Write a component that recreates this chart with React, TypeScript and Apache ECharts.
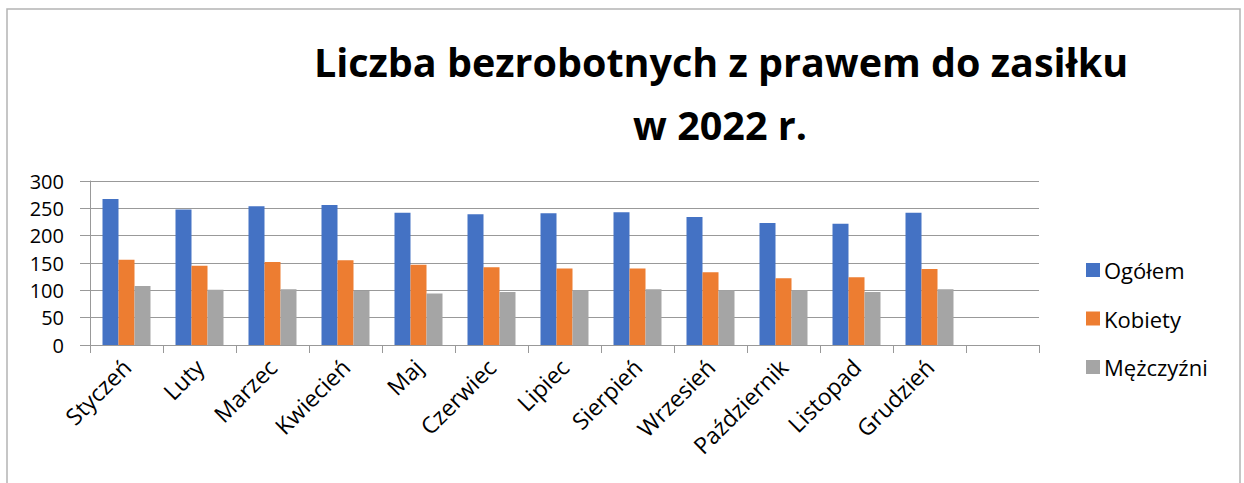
import React, { useEffect, useRef } from "react";
import * as echarts from "echarts";

const months = ["Styczeń", "Luty", "Marzec", "Kwiecień", "Maj", "Czerwiec", "Lipiec", "Sierpień", "Wrzesień", "Październik", "Listopad", "Grudzień", ""];
const ogolem = [267, 248, 254, 256, 242, 239, 241, 243, 234, 223, 222, 242];
const kobiety = [156, 145, 152, 155, 147, 142, 140, 140, 133, 122, 124, 139];
const mezczyzni = [108, 101, 102, 99, 94, 97, 100, 102, 100, 100, 97, 102];
const yTicks = { min: 0, max: 300, interval: 50 };
const titleLines = ["Liczba bezrobotnych z prawem do zasiłku", "w 2022 r."];

const FONT = "'Open Sans', 'Noto Sans', sans-serif";

export default function App() {
  const ref = useRef<HTMLDivElement>(null);
  useEffect(() => {
    if (!ref.current) return;
    const chart = echarts.init(ref.current, undefined, { renderer: "svg" });
    chart.setOption({
      animation: false,
      backgroundColor: "#ffffff",
      textStyle: { fontFamily: FONT },
      graphic: [
        {
          type: "rect",
          shape: { x: 7, y: 9, width: 1233, height: 490 },
          style: { fill: "none", stroke: "#b4b4b4", lineWidth: 1.5 },
          silent: true,
        },
        {
          type: "text",
          x: 721,
          y: 62,
          style: {
            text: titleLines[0],
            font: `bold 39.5px ${FONT}`,
            fill: "#000000",
            textAlign: "center",
            textVerticalAlign: "middle",
          },
        },
        {
          type: "text",
          x: 720,
          y: 125,
          style: {
            text: titleLines[1],
            font: `bold 39.5px ${FONT}`,
            fill: "#000000",
            textAlign: "center",
            textVerticalAlign: "middle",
          },
        },
      ],
      legend: {
        orient: "vertical",
        left: 1081,
        top: 254,
        itemWidth: 14,
        itemHeight: 14,
        itemGap: 26.5,
        icon: "rect",
        textStyle: { fontSize: 22, color: "#000000", fontFamily: FONT, padding: [0, 0, 0, -1] },
        data: ["Ogółem", "Kobiety", "Mężczyźni"],
      },
      grid: { left: 90, right: 205, top: 181, bottom: 138, containLabel: false },
      xAxis: {
        type: "category",
        data: months,
        boundaryGap: true,
        axisLine: { lineStyle: { color: "#999999", width: 1 } },
        axisTick: { show: true, length: 8, alignWithLabel: false, interval: 0, lineStyle: { color: "#999999" } },
        axisLabel: {
          interval: 0,
          rotate: 45,
          fontSize: 23,
          color: "#000000",
          margin: 18,
          fontFamily: FONT,
        },
      },
      yAxis: {
        type: "value",
        min: yTicks.min,
        max: yTicks.max,
        interval: yTicks.interval,
        axisLine: { show: true, lineStyle: { color: "#999999", width: 1 } },
        axisTick: { show: true, length: 10, lineStyle: { color: "#999999" } },
        axisLabel: { fontSize: 20, color: "#000000", margin: 26, fontFamily: FONT },
        splitLine: { lineStyle: { color: "#999999", width: 1 } },
      },
      series: [
        { name: "Ogółem", type: "bar", data: ogolem, barWidth: 16, barGap: "0%", itemStyle: { color: "#4472C4" } },
        { name: "Kobiety", type: "bar", data: kobiety, barWidth: 16, barGap: "0%", itemStyle: { color: "#ED7D31" } },
        { name: "Mężczyźni", type: "bar", data: mezczyzni, barWidth: 16, barGap: "0%", itemStyle: { color: "#A5A5A5" } },
      ],
    });
    return () => chart.dispose();
  }, []);
  return <div ref={ref} style={{ position: "fixed", left: 0, top: 0, width: 1244, height: 483 }} />;
}
